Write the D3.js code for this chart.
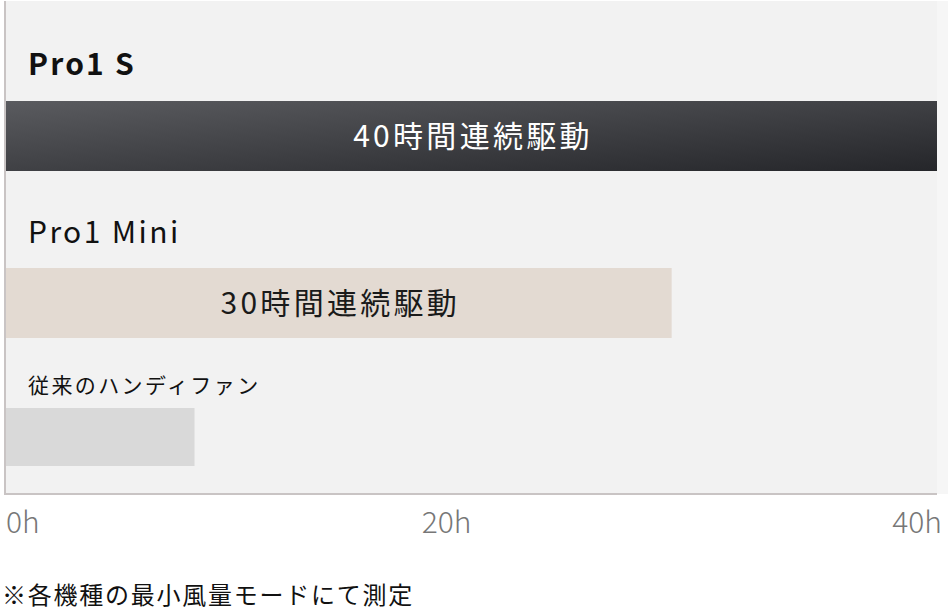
<!DOCTYPE html>
<html>
<head>
<meta charset="utf-8">
<script src="https://cdn.jsdelivr.net/npm/d3@7"></script>
<style>
  body { margin: 0; background: #fff; }
  text { font-family: "Noto Sans CJK JP", "Noto Sans", sans-serif; }
</style>
</head>
<body>
<div id="graph"></div>
<script>
var w = 948
var h = 612

// data
var categories = ["Pro1 S", "Pro1 Mini", "従来のハンディファン"]
var hours = [40, 28.6, 8.1]
var barLabels = ["40時間連続駆動", "30時間連続駆動", ""]
var tickValues = [0, 20, 40]
var tickLabels = ["0h", "20h", "40h"]
var note = "※各機種の最小風量モードにて測定"

var svg = d3.select("#graph").append("svg")
    .attr("width", w)
    .attr("height", h)

var defs = svg.append("defs")
var grad = defs.append("linearGradient").attr("id", "darkBar")
    .attr("x1", "0%").attr("y1", "0%").attr("x2", "100%").attr("y2", "100%")
grad.append("stop").attr("offset", "0%").attr("stop-color", "#5a5b5f")
grad.append("stop").attr("offset", "100%").attr("stop-color", "#25262a")

var x = d3.scaleLinear().domain([0, 40]).range([6, 937])

// row layout: top of each bar, bar height, label baseline
var barTop = d3.scaleOrdinal().domain(categories).range([101, 268, 408])
var barH = d3.scaleOrdinal().domain(categories).range([70, 70, 58])
var labelY = d3.scaleOrdinal().domain(categories).range([75, 243, 393])
var fills = ["url(#darkBar)", "#e3dad2", "#d9d9d9"]
var labelFont = [{ size: 30, weight: 700, ls: 2.2 }, { size: 30, weight: 400, ls: 2.4 }, { size: 21, weight: 400, ls: 2.4 }]
var inBarColor = ["#ffffff", "#1a1a1a", "#000"]

// background panel
svg.append("rect")
    .attr("x", x(0))
    .attr("y", 1)
    .attr("width", x(40) - x(0))
    .attr("height", 493)
    .attr("fill", "#f2f2f2")
svg.append("rect")
    .attr("x", x(40))
    .attr("y", 1)
    .attr("width", w - x(40))
    .attr("height", 493)
    .attr("fill", "#f6f6f6")

var rows = svg.selectAll(".row").data(categories).enter().append("g").attr("class", "row")

rows.append("rect")
    .attr("x", x(0))
    .attr("y", function (d) { return barTop(d) })
    .attr("width", function (d, i) { return x(hours[i]) - x(0) })
    .attr("height", function (d) { return barH(d) })
    .attr("fill", function (d, i) { return fills[i] })

rows.append("text")
    .attr("x", 28)
    .attr("y", function (d) { return labelY(d) })
    .attr("font-size", function (d, i) { return labelFont[i].size })
    .attr("font-weight", function (d, i) { return labelFont[i].weight })
    .attr("letter-spacing", function (d, i) { return labelFont[i].ls })
    .attr("fill", "#111")
    .text(function (d) { return d })

rows.append("text")
    .attr("x", function (d, i) { return (x(0) + x(hours[i])) / 2 + 1.5 })
    .attr("y", function (d) { return barTop(d) + barH(d) / 2 })
    .attr("dy", "0.36em")
    .attr("text-anchor", "middle")
    .attr("font-size", 30)
    .attr("letter-spacing", 3.3)
    .attr("fill", function (d, i) { return inBarColor[i] })
    .text(function (d, i) { return barLabels[i] })

// left border and axis line
svg.append("line")
    .attr("x1", x(0) - 1).attr("x2", x(0) - 1)
    .attr("y1", 1).attr("y2", 495)
    .attr("stroke", "#c9c4c4").attr("stroke-width", 2)
svg.append("line")
    .attr("x1", x(0) - 2).attr("x2", x(40))
    .attr("y1", 494).attr("y2", 494)
    .attr("stroke", "#c9c4c4").attr("stroke-width", 2)

// tick labels
svg.selectAll(".tick").data(tickValues).enter().append("text")
    .attr("class", "tick")
    .attr("x", function (d, i) { return i == 2 ? x(d) + 5 : x(d) })
    .attr("y", 533)
    .attr("text-anchor", function (d, i) { return i == 0 ? "start" : "end" })
    .attr("font-size", 30)
    .attr("font-weight", 300)
    .attr("fill", "#777")
    .text(function (d, i) { return tickLabels[i] })

svg.append("text")
    .attr("x", 2)
    .attr("y", 604)
    .attr("font-size", 24)
    .attr("letter-spacing", 1.75)
    .attr("fill", "#111")
    .text(note)
</script>
</body>
</html>
